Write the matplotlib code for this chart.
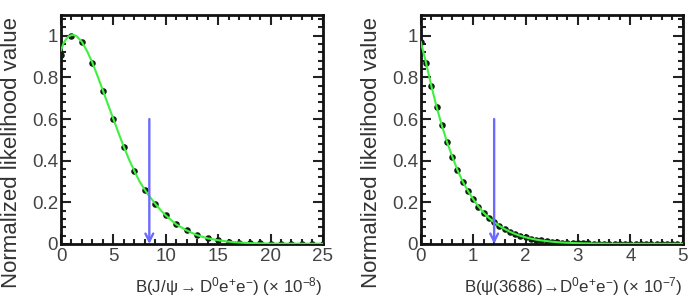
import matplotlib
matplotlib.use('Agg')
import matplotlib.pyplot as plt
from matplotlib.ticker import MultipleLocator

plt.rcParams['font.family'] = ['Liberation Sans', 'DejaVu Sans']
plt.rcParams['mathtext.fontset'] = 'custom'
plt.rcParams['mathtext.rm'] = 'Liberation Sans'
plt.rcParams['mathtext.it'] = 'Liberation Sans'

# J/psi scan points
jpsi_x = list(range(0, 26))
jpsi_y = [0.91, 0.998, 0.968, 0.87, 0.737, 0.60, 0.466, 0.35, 0.26, 0.193,
          0.137, 0.094, 0.065, 0.042, 0.027, 0.018, 0.011, 0.007, 0.004, 0.003,
          0.002, 0.001, 0.001, 0.001, 0.001, 0.001]
# J/psi smooth curve
jpsi_cx = [0, 0.25, 0.5, 0.75, 1, 1.25, 1.5, 2, 2.5, 3, 3.5, 4, 4.5, 5, 5.5, 6,
           6.5, 7, 7.5, 8, 8.5, 9, 9.5, 10, 11, 12, 13, 14, 15, 16, 17, 18, 20, 25]
jpsi_cy = [0.93, 0.965, 0.985, 0.998, 1.003, 1.003, 0.998, 0.97, 0.925, 0.87,
           0.805, 0.737, 0.668, 0.60, 0.532, 0.466, 0.405, 0.35, 0.30, 0.26,
           0.225, 0.193, 0.163, 0.137, 0.094, 0.065, 0.042, 0.027, 0.018, 0.011,
           0.007, 0.004, 0.002, 0.001]
jpsi_limit = 8.43

# psi(3686) scan points
psip_x = [i / 10 for i in range(0, 51)]
psip_y = [0.97, 0.87, 0.76, 0.66, 0.57, 0.49, 0.42, 0.355, 0.30, 0.255,
          0.215, 0.18, 0.15, 0.125, 0.105, 0.087, 0.072, 0.059, 0.048, 0.039,
          0.032, 0.026, 0.021, 0.017, 0.014, 0.011, 0.009, 0.007, 0.006, 0.005,
          0.004, 0.003, 0.003, 0.002, 0.002, 0.002, 0.001, 0.001, 0.001, 0.001,
          0.001, 0.001, 0.001, 0.001, 0.001, 0.001, 0.001, 0.001, 0.001, 0.001,
          0.001]
psip_limit = 1.40

fig = plt.figure(figsize=(6.91, 2.99), dpi=100)
ax1 = fig.add_axes([0.0883, 0.184, 0.379, 0.766])
ax2 = fig.add_axes([0.609, 0.184, 0.379, 0.766])


def style(ax, xmax, xmaj, xmin):
    ax.set_xlim(0, xmax)
    ax.set_ylim(0, 1.1)
    ax.xaxis.set_major_locator(MultipleLocator(xmaj))
    ax.xaxis.set_minor_locator(MultipleLocator(xmin))
    ax.yaxis.set_minor_locator(MultipleLocator(0.04))
    ax.tick_params(which='both', direction='in', top=True, right=True,
                   width=1.5, labelsize=13.5, colors='#222222')
    ax.tick_params(which='major', length=7)
    ax.tick_params(which='minor', length=3.5)
    ax.tick_params(axis='x', pad=3, labelcolor='#444444')
    ax.tick_params(axis='y', pad=2, labelcolor='#444444')
    ax.set_yticks([0, 0.2, 0.4, 0.6, 0.8, 1.0])
    ax.set_yticklabels(['0', '0.2', '0.4', '0.6', '0.8', '1'])
    for s in ax.spines.values():
        s.set_linewidth(2)
        s.set_color('#111111')
    ax.set_ylabel('Normalized likelihood value', fontsize=16,
                  color='#333333', rotation=90, ha='center', va='top')
    ax.yaxis.set_label_coords(-0.23, 0.40)


style(ax1, 25, 5, 1)
style(ax2, 5, 1, 0.2)
ax1.set_xticks([0, 5, 10, 15, 20, 25])
ax2.set_xticks([0, 1, 2, 3, 4, 5])

for ax, px, py, cx, cy, lim in [(ax1, jpsi_x, jpsi_y, jpsi_cx, jpsi_cy, jpsi_limit),
                                (ax2, psip_x, psip_y, psip_x, psip_y, psip_limit)]:
    ax.plot(px, py, 'o', color='#0c200c', markersize=3.7, zorder=3)
    ax.plot(cx, cy, '-', color='#40f040', linewidth=1.5, zorder=4)
    ax.annotate('', xy=(lim, 0.0), xytext=(lim, 0.6),
                arrowprops=dict(arrowstyle='->', color='#6a6aff', lw=1.7,
                                mutation_scale=14, shrinkA=0, shrinkB=0),
                zorder=5)

ax1.set_xlabel(r'B(J/$\psi\rightarrow$D$^{0}$e$^{+}$e$^{-}$) ($\times$ 10$^{-8}$)',
               loc='right', fontsize=12.2, color='#333333', labelpad=7)
ax2.set_xlabel(r'B($\psi$(3686)$\!\rightarrow\!$D$^{0}$e$^{+}$e$^{-}$) ($\times$ 10$^{-7}$)',
               loc='right', fontsize=12.2, color='#333333', labelpad=7)

fig.savefig('out.png', dpi=100)
